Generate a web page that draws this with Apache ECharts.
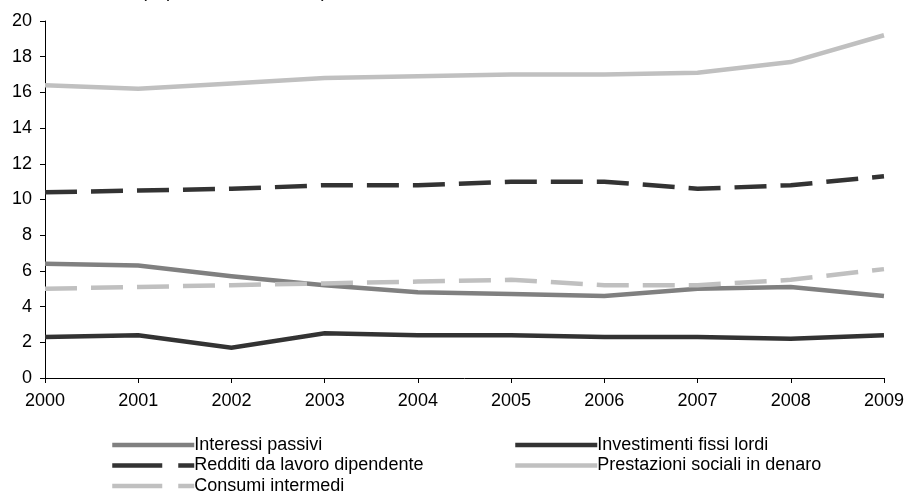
<!DOCTYPE html>
<html>
<head>
<meta charset="utf-8">
<script src="https://cdn.jsdelivr.net/npm/echarts@6/dist/echarts.min.js"></script>
<style>
html,body{margin:0;padding:0;background:#fff;}
#chart{width:907px;height:494px;}
</style>
</head>
<body>
<div id="chart"></div>
<script>
var years = ['2000','2001','2002','2003','2004','2005','2006','2007','2008','2009'];
var interessiPassivi = [6.4, 6.3, 5.7, 5.2, 4.8, 4.7, 4.6, 5.0, 5.1, 4.6];
var investimentiFissiLordi = [2.3, 2.4, 1.7, 2.5, 2.4, 2.4, 2.3, 2.3, 2.2, 2.4];
var redditiLavoroDipendente = [10.4, 10.5, 10.6, 10.8, 10.8, 11.0, 11.0, 10.6, 10.8, 11.3];
var prestazioniSociali = [16.4, 16.2, 16.5, 16.8, 16.9, 17.0, 17.0, 17.1, 17.7, 19.2];
var consumiIntermedi = [5.0, 5.1, 5.2, 5.3, 5.4, 5.5, 5.2, 5.2, 5.5, 6.1];
var subtitleText = '(in percentuale del PIL)';

var FONT = 'Liberation Sans, Arial, sans-serif';
var chart = echarts.init(document.getElementById('chart'), null, {renderer: 'canvas'});

function ser(name, data, color, dashed) {
  return {
    name: name, type: 'line', data: data, symbol: 'none', silent: true,
    lineStyle: {color: color, width: 4.5, type: dashed ? [32, 14] : 'solid', cap: 'butt', join: 'miter'},
    itemStyle: {color: color}
  };
}

var legendCommon = {
  orient: 'vertical', top: 436, height: 80, padding: 0, itemWidth: 82, itemHeight: 18, itemGap: 2.5,
  selectedMode: false,
  itemStyle: {opacity: 0},
  lineStyle: {width: 4.5},
  textStyle: {fontFamily: FONT, fontSize: 18, color: '#000', padding: [0, 0, 0, -5]}
};
var dashLegend = {type: [50, 16], width: 4.5};

chart.setOption({
  animation: false,
  backgroundColor: '#fff',
  title: {text: subtitleText, left: 136, top: -22, textStyle: {fontFamily: FONT, fontSize: 18, fontWeight: 'normal', color: '#000'}},
  grid: {left: 45, right: 21, top: 21, bottom: 116, containLabel: false},
  legend: [
    Object.assign({}, legendCommon, {left: 110, data: [
      {name: 'Interessi passivi'},
      {name: 'Redditi da lavoro dipendente', lineStyle: dashLegend},
      {name: 'Consumi intermedi', lineStyle: dashLegend}
    ]}),
    Object.assign({}, legendCommon, {left: 513, data: [
      {name: 'Investimenti fissi lordi'},
      {name: 'Prestazioni sociali in denaro'}
    ]})
  ],
  xAxis: {
    type: 'category', data: years, boundaryGap: false,
    axisLine: {lineStyle: {color: '#000', width: 1}},
    axisTick: {show: true, length: 5, lineStyle: {color: '#000'}},
    axisLabel: {fontFamily: FONT, fontSize: 18, color: '#000', margin: 14},
    splitLine: {show: false}
  },
  yAxis: {
    type: 'value', min: 0, max: 20, interval: 2,
    axisLine: {show: true, lineStyle: {color: '#000', width: 1}},
    axisTick: {show: true, length: 5, lineStyle: {color: '#000'}},
    axisLabel: {fontFamily: FONT, fontSize: 18, color: '#000', margin: 13},
    splitLine: {show: false}
  },
  series: [
    ser('Interessi passivi', interessiPassivi, '#808080', false),
    ser('Investimenti fissi lordi', investimentiFissiLordi, '#333333', false),
    ser('Redditi da lavoro dipendente', redditiLavoroDipendente, '#333333', true),
    ser('Prestazioni sociali in denaro', prestazioniSociali, '#c0c0c0', false),
    ser('Consumi intermedi', consumiIntermedi, '#c0c0c0', true)
  ]
});
</script>
</body>
</html>
